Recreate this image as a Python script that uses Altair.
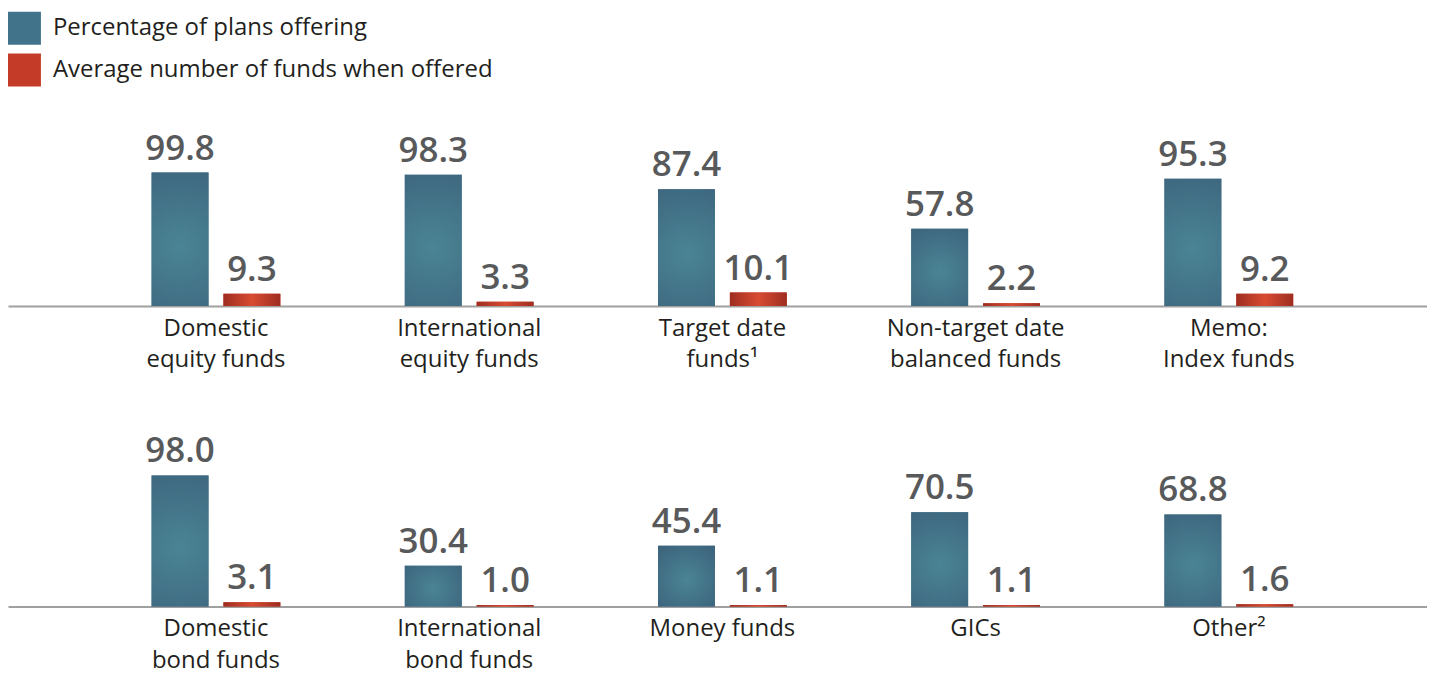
import altair as alt
import pandas as pd

series = ["Percentage of plans offering", "Average number of funds when offered"]

row1_cats = ["Domestic|equity funds", "International|equity funds", "Target date|funds¹",
             "Non-target date|balanced funds", "Memo:|Index funds"]
row1_pct = [99.8, 98.3, 87.4, 57.8, 95.3]
row1_avg = [9.3, 3.3, 10.1, 2.2, 9.2]

row2_cats = ["Domestic|bond funds", "International|bond funds", "Money funds", "GICs", "Other²"]
row2_pct = [98.0, 30.4, 45.4, 70.5, 68.8]
row2_avg = [3.1, 1.0, 1.1, 1.1, 1.6]


def frame(cats, pct, avg):
    rows = []
    for c, p, a in zip(cats, pct, avg):
        rows.append({"cat": c, "series": series[0], "value": p})
        rows.append({"cat": c, "series": series[1], "value": a})
    return pd.DataFrame(rows)


BLUE_GRAD = {"gradient": "radial", "x1": 0.5, "y1": 0.55, "r1": 0, "x2": 0.5, "y2": 0.55, "r2": 0.75,
             "stops": [{"offset": 0, "color": "#4a8495"}, {"offset": 1, "color": "#3b6079"}]}
RED_GRAD = {"gradient": "linear", "x1": 0, "y1": 0, "x2": 1, "y2": 0,
            "stops": [{"offset": 0, "color": "#9e2d20"}, {"offset": 0.5, "color": "#d84b32"},
                      {"offset": 1, "color": "#9e2d20"}]}

W = 1422
PPU = 1.34
FONT = "Open Sans"


def panel(cats, pct, avg, dom_max):
    df = frame(cats, pct, avg)
    height = dom_max * PPU
    x = alt.X("cat:N", sort=cats,
              scale=alt.Scale(paddingInner=0, paddingOuter=0.302, align=0.532),
              axis=alt.Axis(title=None, labelExpr="split(datum.label, '|')", labelAngle=0,
                            labelFontSize=24, labelColor="#231f20", labelFont=FONT,
                            labelPadding=10, labelLineHeight=32, ticks=False,
                            domainColor="#a0a0a0", domainWidth=2, labelLimit=0))
    xo = alt.XOffset("series:N", sort=series,
                     scale=alt.Scale(domain=series, paddingInner=0.2083, paddingOuter=0.866))
    y = alt.Y("value:Q", scale=alt.Scale(domain=[0, dom_max], nice=False, zero=True), axis=None)
    base = alt.Chart(df).encode(x=x, xOffset=xo, y=y)
    bars = base.mark_bar().encode(
        color=alt.Color("series:N", sort=series,
                        scale=alt.Scale(domain=series, range=["#41738a", "#c43c27"]),
                        legend=alt.Legend(title=None, orient="none", legendX=0, legendY=3,
                                          direction="vertical", symbolType="square",
                                          symbolSize=1089, symbolStrokeWidth=0,
                                          labelFontSize=24, labelFont=FONT,
                                          labelColor="#231f20", labelOffset=12,
                                          rowPadding=9, labelLimit=0)))
    g1 = base.transform_filter(alt.datum.series == series[0]).mark_bar(fill=BLUE_GRAD)
    g2 = base.transform_filter(alt.datum.series == series[1]).mark_bar(fill=RED_GRAD)
    text = base.mark_text(dy=-13, baseline="alphabetic", fontSize=35, fontWeight=600,
                          font=FONT, color="#58595b").encode(
        text=alt.Text("value:Q", format=".1f"))
    return alt.layer(bars, g1, g2, text).properties(width=W, height=height)


top = panel(row1_cats, row1_pct, row1_avg, 298 / PPU)
bottom = panel(row2_cats, row2_pct, row2_avg, 130)

chart = alt.vconcat(top, bottom, spacing=126.8, bounds="flush").configure_view(
    stroke=None).properties(padding=0)

chart.save("out.html", embed_options={"renderer": "svg", "actions": False})
